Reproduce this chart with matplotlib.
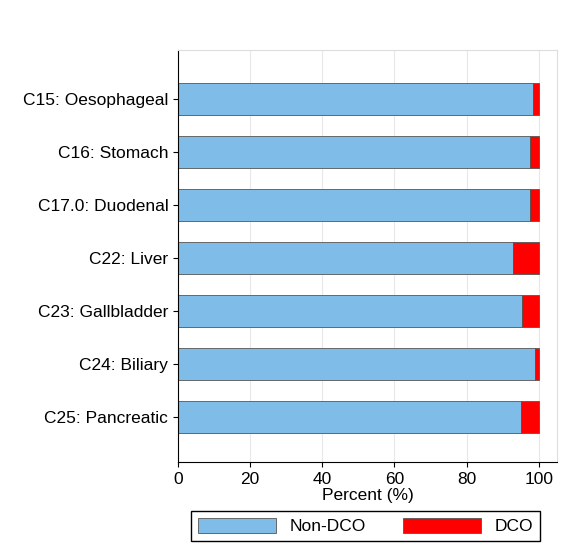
import matplotlib.pyplot as plt
import numpy as np

plt.rcParams["font.family"] = ["Liberation Sans", "DejaVu Sans"]

sites = ["C15: Oesophageal", "C16: Stomach", "C17.0: Duodenal", "C22: Liver",
         "C23: Gallbladder", "C24: Biliary", "C25: Pancreatic"]
non_dco = [98.3, 97.5, 97.5, 92.8, 95.4, 98.9, 95.0]
dco = [100 - v for v in non_dco]

fig = plt.figure(figsize=(5.77, 5.53), dpi=100)
ax = fig.add_axes([0.3085, 0.1646, 0.6565, 0.745])

y = np.arange(len(sites))
ax.barh(y, non_dco, height=0.6, color="#7fbce8", edgecolor="#555555", linewidth=0.6,
        label="Non-DCO", zorder=2)
ax.barh(y, dco, left=non_dco, height=0.6, color="#ff0000", edgecolor="#555555",
        linewidth=0.6, label="DCO", zorder=2)

fs = 12.5
ax.set_xlim(0, 105)
ax.set_ylim(6.85, -0.92)
ax.set_yticks(y)
ax.set_yticklabels(sites, fontsize=fs)
ax.set_xticks([0, 20, 40, 60, 80, 100])
ax.tick_params(axis="x", labelsize=fs)
ax.grid(axis="x", color="#e8e8e8", linewidth=0.8, zorder=0)
ax.set_xlabel("Percent (%)", fontsize=fs, labelpad=1)
for s in ["top", "right"]:
    ax.spines[s].set_color("#dddddd")

fig.legend(loc="lower left", bbox_to_anchor=(182 / 577, 3 / 553, 367 / 577, 34 / 553),
           mode="expand", ncol=2, fontsize=fs, frameon=True, fancybox=False,
           edgecolor="black", handlelength=4.5, handleheight=1.0, borderpad=0.4,
           framealpha=1)

fig.savefig("out.png", dpi=100)
